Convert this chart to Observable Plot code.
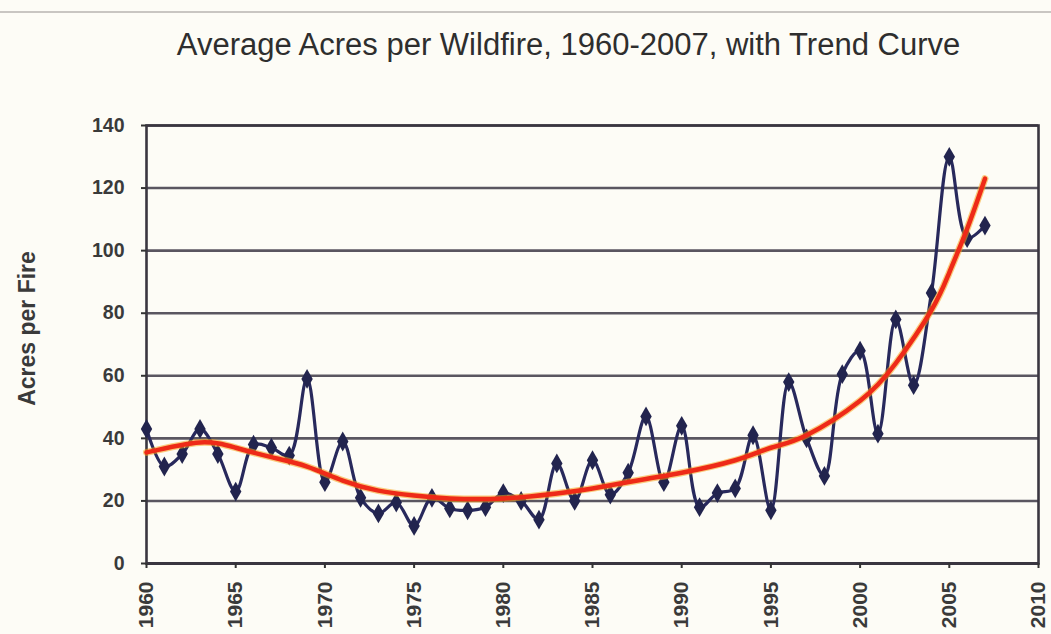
<!DOCTYPE html>
<html>
<head>
<meta charset="utf-8">
<script src="https://cdn.jsdelivr.net/npm/d3@7"></script>
<script src="https://cdn.jsdelivr.net/npm/@observablehq/plot@0.6"></script>
<style>
  html, body { margin: 0; padding: 0; background: #fdfcf6; }
  #wrap { position: relative; width: 1051px; height: 634px; overflow: hidden; }
  #edge { position: absolute; left: 0; top: 11px; width: 1051px; height: 2px; background: #c9c6c2; }
  #title { position: absolute; left: 0; width: 1051px; top: 29px; line-height: 31px; text-align: center;
           font-family: "Liberation Sans", Arial, sans-serif; font-size: 31px; color: #2e2e2e; }
  #title span { position: relative; left: 43px; }
  #chart { position: absolute; left: 0; top: 0; }
</style>
</head>
<body>
<div id="wrap">
  <div id="edge"></div>
  <div id="chart"></div>
  <div id="title"><span>Average Acres per Wildfire, 1960-2007, with Trend Curve</span></div>
</div>
<script>
const years = d3.range(1960, 2008);
const acres = [43, 31, 35, 43, 35, 23, 38, 37, 34.5, 59,
               26, 39, 21, 16, 19.5, 12, 21, 17.6, 17, 18,
               22.5, 20, 14, 32, 20, 33, 22, 29, 47, 26,
               44, 18, 22.5, 24, 41, 17, 58, 40, 28, 60.5,
               68, 41.5, 78, 57, 86.5, 130, 104, 108];
const trendYears = [1960, 1963, 1965, 1967, 1969, 1971, 1973, 1975, 1977, 1980, 1983, 1985,
                    1988, 1990, 1993, 1995, 1997, 2000, 2002, 2004, 2005, 2006, 2007];
const trendValues = [35.5, 38.7, 37, 34, 31, 26.5, 23.3, 21.7, 20.8, 20.8, 22.4, 24,
                     27, 29, 33, 37, 41, 52, 64, 81, 93, 107, 123];
const yTicks = [0, 20, 40, 60, 80, 100, 120, 140];
const xTicks = [1960, 1965, 1970, 1975, 1980, 1985, 1990, 1995, 2000, 2005, 2010];

const data = years.map((y, i) => ({year: y, value: acres[i]}));
const trend = trendYears.map((y, i) => ({year: y, value: trendValues[i]}));

const chart = Plot.plot({
  width: 1051,
  height: 634,
  marginLeft: 146,
  marginRight: 13,
  marginTop: 125,
  marginBottom: 71,
  style: {background: "transparent", fontFamily: "Liberation Sans, Arial, sans-serif", color: "#333"},
  x: {domain: [1960, 2010], label: null},
  y: {domain: [0, 140], label: null},
  marks: [
    Plot.ruleY(yTicks.slice(1), {stroke: "#5a5660", strokeWidth: 2.6}),
    Plot.ruleY([0], {stroke: "#3a3640", strokeWidth: 3}),
    Plot.frame({stroke: "#3a3640", strokeWidth: 2.6}),
    Plot.axisX({ticks: xTicks, tickFormat: "d", tickRotate: -90, tickSize: 5, tickPadding: 13,
                fontSize: 21, fontWeight: "bold", fill: "#3a3a3a", stroke: "#333", strokeWidth: 2, label: null}),
    Plot.axisY({ticks: yTicks, tickSize: 5, tickPadding: 17, fontSize: 19.5, fontWeight: "bold",
                fill: "#3a3a3a", stroke: "#333", strokeWidth: 2, label: null}),
    Plot.text(["Acres per Fire"], {frameAnchor: "left", textAnchor: "middle", dx: -119, dy: -16, rotate: -90,
               fontSize: 23, fontWeight: "bold", fill: "#3a3a3a"}),
    Plot.line(data, {x: "year", y: "value", curve: "catmull-rom", stroke: "#28295c", strokeWidth: 3.2}),
    Plot.dot(data, {x: "year", y: "value", symbol: "diamond", r: 6, fill: "#22244e"}),
    Plot.line(trend, {x: "year", y: "value", curve: "natural", stroke: "#f7a21a", strokeWidth: 7, strokeOpacity: 0.55}),
    Plot.line(trend, {x: "year", y: "value", curve: "natural", stroke: "#ee2a18", strokeWidth: 4.5})
  ]
});
document.getElementById("chart").appendChild(chart);
</script>
</body>
</html>
